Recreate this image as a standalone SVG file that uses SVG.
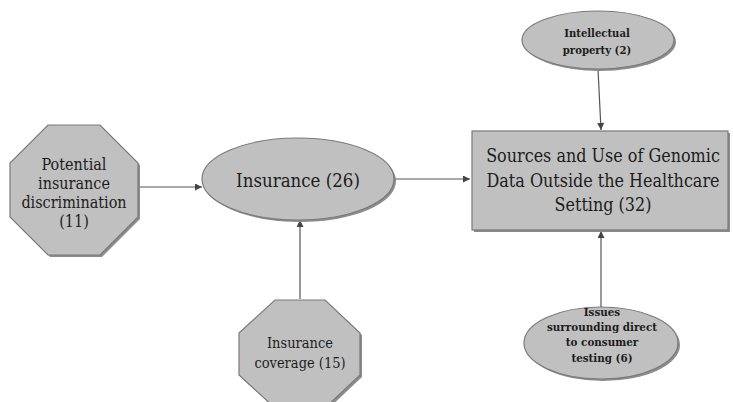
<svg xmlns="http://www.w3.org/2000/svg" width="733" height="402" viewBox="0 0 733 402">
<style>
.shape{fill:#c0c0c0;stroke:#7a7a7a;stroke-width:1.2}
.shadow{fill:#8c8c8c;stroke:none}
.t{font-family:"DejaVu Serif Condensed","DejaVu Serif","Liberation Serif",serif;font-stretch:condensed;fill:#1c1c1c;text-anchor:middle}
.s{font-weight:bold}
.edge{stroke:#555;stroke-width:1.2;fill:none;marker-end:url(#ah)}
</style>
<defs>
<marker id="ah" viewBox="0 0 10 10" refX="10" refY="5" markerWidth="8" markerHeight="7" markerUnits="userSpaceOnUse" orient="auto">
<path d="M0,0 L10,5 L0,10 z" fill="#444"/>
</marker>
</defs>
<rect width="733" height="402" fill="#fff"/>
<g id="connectors">
<line class="edge" x1="138" y1="187" x2="202" y2="187"/>
<line class="edge" x1="394" y1="179" x2="470" y2="179"/>
<line class="edge" x1="300" y1="299" x2="300" y2="220"/>
<line class="edge" x1="598" y1="69" x2="601" y2="130"/>
<line class="edge" x1="601" y1="307" x2="601" y2="231"/>
</g>
<g id="potential-insurance-discrimination">
<polygon class="shadow" points="50,127 102,127 140,165 140,219 102,257 50,257 12,219 12,165"/>
<polygon class="shape" points="48,125 100,125 138,163 138,217 100,255 48,255 10,217 10,163"/>
<text class="t" font-size="16" x="74" y="170">Potential</text>
<text class="t" font-size="16" x="74" y="189">insurance</text>
<text class="t" font-size="16" x="74" y="208">discrimination</text>
<text class="t" font-size="16" x="74" y="227">(11)</text>
</g>
<g id="insurance">
<ellipse class="shadow" cx="300" cy="181" rx="96" ry="41"/>
<ellipse class="shape" cx="298" cy="179" rx="96" ry="41"/>
<text class="t" font-size="18.5" x="298" y="187">Insurance (26)</text>
</g>
<g id="insurance-coverage">
<polygon class="shadow" points="277,302 327,302 362,335 362,377 327,410 277,410 241,377 241,335"/>
<polygon class="shape" points="275,300 325,300 360,333 360,375 325,408 275,408 239,375 239,333"/>
<text class="t" font-size="14.5" x="300" y="348">Insurance</text>
<text class="t" font-size="14.5" x="300" y="368">coverage (15)</text>
</g>
<g id="genomic-data">
<rect class="shadow" x="474" y="133" width="256" height="99"/>
<rect class="shape" x="472" y="131" width="256" height="99"/>
<text class="t" font-size="17.8" x="603" y="162">Sources and Use of Genomic</text>
<text class="t" font-size="17.8" x="603" y="187">Data Outside the Healthcare</text>
<text class="t" font-size="17.8" x="603" y="211">Setting (32)</text>
</g>
<g id="intellectual-property">
<ellipse class="shadow" cx="600" cy="42" rx="76" ry="29"/>
<ellipse class="shape" cx="598" cy="40" rx="76" ry="29"/>
<text class="t s" font-size="11.2" x="597" y="37">Intellectual</text>
<text class="t s" font-size="11.2" x="597" y="54">property (2)</text>
</g>
<g id="direct-to-consumer">
<ellipse class="shadow" cx="603" cy="345" rx="77" ry="36"/>
<ellipse class="shape" cx="601" cy="343" rx="77" ry="36"/>
<text class="t s" font-size="11.5" x="602" y="316">Issues</text>
<text class="t s" font-size="11.5" x="602" y="331">surrounding direct</text>
<text class="t s" font-size="11.5" x="602" y="346">to consumer</text>
<text class="t s" font-size="11.5" x="602" y="362">testing (6)</text>
</g>
</svg>
